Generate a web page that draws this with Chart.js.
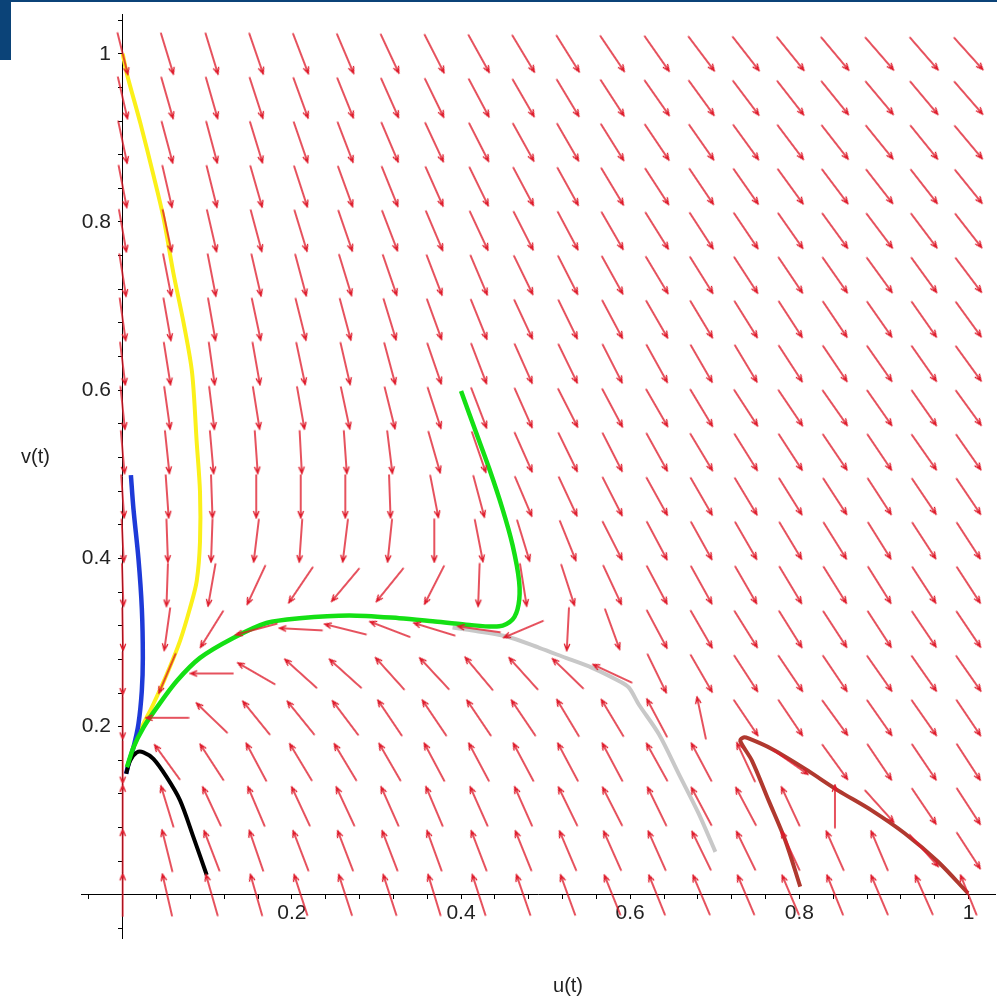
<!DOCTYPE html>
<html>
<head>
<meta charset="utf-8">
<title>Phase portrait</title>
<script src="https://cdn.jsdelivr.net/npm/chart.js@4.4.1/dist/chart.umd.min.js"></script>
<style>
    html, body { margin: 0; padding: 0; background: #fff; overflow: hidden; }
    #wrap { position: relative; width: 997px; height: 1002px; overflow: hidden; }
    #phaseChart { position: absolute; left: 0; top: 0; }
    .frameBar { position: absolute; background: #0b4378; }
</style>
</head>
<body>
<div id="wrap">
    <canvas id="phaseChart" width="1000" height="1002"></canvas>
    <div class="frameBar" style="left:0;top:0;width:997px;height:2px"></div>
    <div class="frameBar" style="left:0;top:0;width:11px;height:60px"></div>
</div>
<script>
// grid of the direction field (20 x 20 over the unit square)
const gridU = [0, 0.0526, 0.1053, 0.1579, 0.2105, 0.2632, 0.3158, 0.3684, 0.4211, 0.4737,
               0.5263, 0.5789, 0.6316, 0.6842, 0.7368, 0.7895, 0.8421, 0.8947, 0.9474, 1];
const gridV = gridU.slice();

// arrow direction in degrees, counter-clockwise from +u; first row is v = 0, last row is v = 1
const arrowAngles = [
    [90, 103, 106, 106, 108, 108, 108, 107, 108, 109, 110, 112, 112, 113, 113, 113, 112, 113, 114, 112],
    [90, 104, 111, 109, 111, 111, 111, 110, 111, 112, 113, 114, 114, 116, 116, 115, 114, 113, -48, -57],
    [90, 107, 115, 113, 115, 115, 114, 113, 114, 114, 116, 117, 116, 118, 118, 115, 90, -48, -56, -57],
    [-90, 126, 123, 118, 121, 121, 120, 118, 118, 118, 118, 118, 119, 118, 115, -35, -54, -56, -56, -57],
    [-90, 180, 136, 129, 129, 127, 124, 124, 124, 124, 121, 121, 118, 102, -56, -56, -54, -55, -55, -56],
    [-90, -113, 180, 150, 138, 138, 132, 133, 130, 132, 136, 155, -64, -60, -57, -56, -56, -55, -55, -55],
    [-89, -98, -122, -165, 177, 166, 159, 163, 172, -157, -93, -70, -62, -60, -58, -58, -57, -57, -56, -56],
    [-88, -92, -100, -115, -124, -130, -129, -117, -92, -81, -72, -65, -62, -61, -60, -59, -58, -58, -57, -57],
    [-87, -88, -92, -97, -94, -97, -96, -90, -79, -73, -68, -63, -62, -61, -60, -59, -58, -58, -57, -57],
    [-86, -86, -88, -90, -90, -90, -88, -79, -75, -67, -65, -63, -61, -60, -59, -58, -57, -57, -56, -56],
    [-85, -84, -85, -86, -87, -86, -83, -74, -71, -66, -64, -63, -61, -59, -58, -57, -56, -56, -55, -55],
    [-84, -82, -83, -81, -80, -78, -76, -72, -69, -66, -63, -62, -60, -59, -57, -56, -55, -55, -55, -54],
    [-83, -81, -82, -80, -78, -77, -75, -71, -69, -66, -64, -63, -61, -60, -59, -57, -56, -55, -55, -54],
    [-82, -80, -80, -78, -76, -75, -73, -70, -68, -65, -64, -62, -60, -59, -58, -57, -56, -55, -55, -54],
    [-81, -79, -79, -77, -75, -73, -71, -69, -67, -64, -63, -61, -59, -58, -57, -56, -55, -54, -54, -53],
    [-80, -78, -77, -75, -73, -71, -69, -67, -65, -63, -62, -60, -58, -57, -56, -55, -54, -53, -53, -52],
    [-79, -77, -76, -74, -72, -70, -68, -66, -64, -62, -61, -59, -57, -56, -55, -54, -53, -52, -52, -51],
    [-78, -75, -75, -73, -71, -69, -67, -65, -63, -61, -60, -58, -56, -55, -54, -53, -52, -51, -51, -50],
    [-77, -74, -74, -72, -70, -68, -66, -64, -62, -60, -59, -57, -55, -54, -53, -52, -51, -50, -50, -49],
    [-76, -73, -73, -71, -69, -67, -65, -63, -61, -59, -58, -56, -55, -53, -52, -51, -50, -49, -49, -48]
];

// trajectories
const yellowU = [0, 0.005, 0.021, 0.036, 0.048, 0.060, 0.072, 0.082, 0.0875, 0.0914, 0.0914, 0.0875, 0.0796, 0.0678, 0.052, 0.0363, 0.0206, 0.0120, 0.0050];
const yellowV = [1.0, 0.976, 0.917, 0.857, 0.806, 0.739, 0.680, 0.621, 0.538, 0.479, 0.420, 0.373, 0.341, 0.302, 0.262, 0.227, 0.195, 0.172, 0.152];

const blueU = [0.0097, 0.0127, 0.0186, 0.0226, 0.0238, 0.0226, 0.0186, 0.0127, 0.0068, 0.0041];
const blueV = [0.499, 0.459, 0.400, 0.341, 0.282, 0.2425, 0.203, 0.1754, 0.1558, 0.144];

const blackU = [0.0993, 0.0835, 0.0678, 0.052, 0.0363, 0.0245, 0.0167, 0.0088, 0.0041];
const blackV = [0.0237, 0.069, 0.1124, 0.140, 0.1617, 0.1695, 0.1695, 0.1597, 0.144];

const greenU = [0.400, 0.4177, 0.4334, 0.449, 0.4609, 0.4687, 0.468, 0.4609, 0.4452, 0.4059, 0.3665, 0.327, 0.268, 0.209, 0.170, 0.1307, 0.0914, 0.0639, 0.0403, 0.0245, 0.0127, 0.005];
const greenV = [0.599, 0.550, 0.5066, 0.459, 0.416, 0.3726, 0.345, 0.3273, 0.3193, 0.3213, 0.3253, 0.329, 0.3323, 0.329, 0.3233, 0.3055, 0.2818, 0.2543, 0.2227, 0.199, 0.1754, 0.1517];

const greyU = [0.7007, 0.681, 0.6574, 0.634, 0.610, 0.5985, 0.5867, 0.555, 0.5238, 0.4925, 0.4530, 0.406, 0.390];
const greyV = [0.0512, 0.0966, 0.144, 0.191, 0.2267, 0.2464, 0.2543, 0.270, 0.2818, 0.2937, 0.3075, 0.3154, 0.318];

const brownU = [0.801, 0.7833, 0.7636, 0.7439, 0.730, 0.734, 0.740, 0.7675, 0.8068, 0.846, 0.8854, 0.9248, 0.964, 0.9994];
const brownV = [0.0099, 0.065, 0.1124, 0.1597, 0.1833, 0.1872, 0.186, 0.1735, 0.1498, 0.124, 0.1005, 0.073, 0.0394, 0.002];

// axes
const majorTicks = [0.2, 0.4, 0.6, 0.8, 1];
const majorLabels = ['0.2', '0.4', '0.6', '0.8', '1'];
const xMinorTicks = [];
for (let k = -1; k <= 25; k++) xMinorTicks.push(+(k * 0.04).toFixed(2));
const yMinorTicks = [];
for (let k = -1; k <= 26; k++) yMinorTicks.push(+(k * 0.04).toFixed(2));

const zip = (us, vs) => us.map((u, i) => ({x: u, y: vs[i]}));

const makeArrowImage = function () {
    const len = 43, head = 7, spread = 0.38;
    const c = document.createElement('canvas');
    c.width = len + 2;
    c.height = 10;
    const g = c.getContext('2d');
    g.strokeStyle = '#de1a2a';
    g.lineWidth = 1.35;
    g.lineCap = 'round';
    g.beginPath();
    g.moveTo(1, 5);
    g.lineTo(len + 1, 5);
    g.moveTo(len + 1 - head * Math.cos(spread), 5 - head * Math.sin(spread));
    g.lineTo(len + 1, 5);
    g.lineTo(len + 1 - head * Math.cos(spread), 5 + head * Math.sin(spread));
    g.stroke();
    return c;
};

const arrowPoints = [];
gridV.forEach((v, j) => {
    gridU.forEach((u, i) => {
        arrowPoints.push({x: u, y: v, a: arrowAngles[j][i]});
    });
});

const trajectory = function (us, vs, color, width) {
    return {
        data: zip(us, vs),
        showLine: true,
        borderColor: color,
        borderWidth: width,
        pointRadius: 0,
        tension: 0.3,
        fill: false
    };
};

const findLabel = function (value) {
    const k = majorTicks.findIndex(t => Math.abs(t - value) < 1e-6);
    return k >= 0 ? majorLabels[k] : '';
};

const labelFont = {family: '"Liberation Sans", Arial, sans-serif', size: 21, lineHeight: 0.9};

const axisTitles = {
    id: 'axisTitles',
    afterDraw(chart) {
        const {ctx, scales: {x, y}} = chart;
        ctx.save();
        ctx.font = '20px "Liberation Sans", Arial, sans-serif';
        ctx.fillStyle = '#222';
        ctx.textAlign = 'center';
        ctx.textBaseline = 'middle';
        ctx.fillText('u(t)', x.getPixelForValue(0.5265), y.getPixelForValue(-0.1088));
        ctx.fillText('v(t)', x.getPixelForValue(-0.1032), y.getPixelForValue(0.520));
        ctx.restore();
    }
};

const ctx = document.getElementById('phaseChart').getContext('2d');

new Chart(ctx, {
    type: 'scatter',
    data: {
        datasets: [
            {
                data: arrowPoints,
                pointStyle: makeArrowImage(),
                pointRadius: 3,
                pointRotation: c => -c.raw.a,
                showLine: false
            },
            trajectory(greenU, greenV, '#14e014', 4.5),
            trajectory(blackU, blackV, '#000000', 4),
            trajectory(blueU, blueV, '#1e3ad8', 4.5),
            trajectory(yellowU, yellowV, '#fbf01a', 4),
            trajectory(greyU, greyV, '#c8c8c8', 4),
            trajectory(brownU, brownV, '#b0392f', 4)
        ]
    },
    options: {
        responsive: false,
        animation: false,
        events: [],
        devicePixelRatio: 1,
        layout: {
            padding: {left: 81, top: 10, right: 0, bottom: 64}
        },
        plugins: {
            legend: {display: false},
            tooltip: {enabled: false}
        },
        scales: {
            x: {
                type: 'linear',
                min: -0.0493,
                max: 1.0313,
                position: {y: 0},
                afterBuildTicks: scale => {
                    scale.ticks = xMinorTicks.map(v => ({value: v}));
                },
                grid: {drawOnChartArea: false, drawTicks: true, tickLength: 4, color: '#000'},
                border: {display: true, color: '#000', width: 1},
                ticks: {
                    callback: findLabel,
                    autoSkip: false,
                    maxRotation: 0,
                    padding: 5,
                    color: '#222',
                    font: labelFont
                }
            },
            y: {
                type: 'linear',
                min: -0.0512,
                max: 1.0467,
                position: {x: 0},
                afterBuildTicks: scale => {
                    scale.ticks = yMinorTicks.map(v => ({value: v}));
                },
                grid: {drawOnChartArea: false, drawTicks: true, tickLength: 4, color: '#000'},
                border: {display: true, color: '#000', width: 1},
                ticks: {
                    // labels sit against the axis line, so keep a gap after the text
                    callback: value => {
                        const label = findLabel(value);
                        return label ? label + '  ' : '';
                    },
                    autoSkip: false,
                    padding: 5,
                    color: '#222',
                    font: labelFont
                }
            }
        }
    },
    plugins: [axisTitles]
});
</script>
</body>
</html>
